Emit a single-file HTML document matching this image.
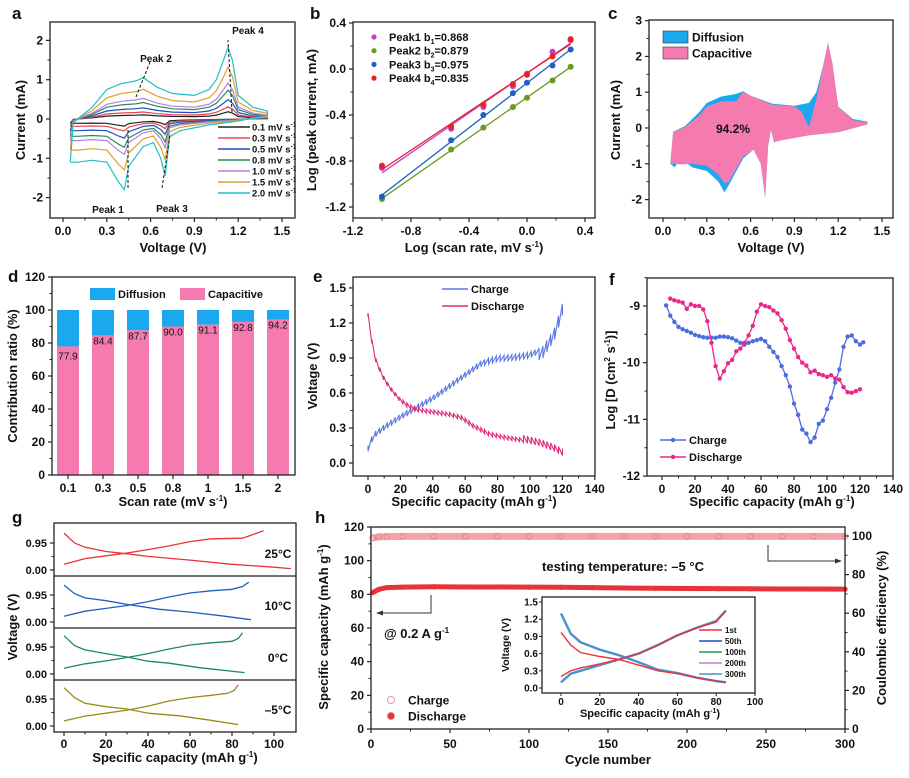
<!DOCTYPE html>
<html><head><meta charset="utf-8"><style>
html,body{margin:0;padding:0;background:#fff;}
svg{display:block;font-family:"Liberation Sans",Arial,sans-serif;}
</style></head><body>
<svg id="chart" width="909" height="778" viewBox="0 0 909 778" xmlns="http://www.w3.org/2000/svg"></svg>
<script>
// ---------- Panel a data ----------
const aRates = ['0.1','0.3','0.5','0.8','1.0','1.5','2.0'];
const aScale = [0.1,0.17,0.27,0.4,0.5,0.72,1.0];
const aColors = ['#222','#e8464a','#1f4fc0','#2a8a5a','#b77fe0','#e0a030','#1ec0c8'];
const aV = [0.05,0.07,0.1,0.2,0.3,0.4,0.5,0.55,0.65,0.75,0.9,1.0,1.05,1.1,1.13,1.16,1.2,1.3,1.4,1.4,1.2,1.0,0.8,0.73,0.7,0.67,0.62,0.55,0.45,0.42,0.38,0.3,0.2,0.1,0.05];
const aI = [-1.1,-0.1,0.0,0.3,0.75,0.9,0.97,1.05,0.8,0.65,0.6,0.75,1.0,1.5,1.83,1.5,0.6,0.3,0.2,0.1,-0.05,-0.15,-0.3,-0.45,-1.45,-1.0,-0.6,-0.7,-1.2,-1.8,-1.6,-1.1,-1.05,-1.1,-1.1];
// ---------- Panel b data ----------
const bLogRate = [-1,-0.523,-0.301,-0.097,0,0.176,0.301];
const bPeak1 = [-0.86,-0.52,-0.33,-0.15,-0.04,0.15,0.25];
const bPeak2 = [-1.13,-0.70,-0.51,-0.33,-0.25,-0.10,0.02];
const bPeak3 = [-1.11,-0.62,-0.40,-0.21,-0.12,0.03,0.17];
const bPeak4 = [-0.84,-0.50,-0.31,-0.13,-0.05,0.11,0.26];
const bLabels = ['Peak1  b','Peak2  b','Peak3  b','Peak4  b'];
const bValues = ['0.868','0.879','0.975','0.835'];
// ---------- Panel c data ----------
const cTotV = [0.05,0.07,0.15,0.25,0.3,0.4,0.5,0.55,0.6,0.75,0.9,1.0,1.05,1.1,1.13,1.16,1.2,1.3,1.4,1.4,1.2,1.0,0.8,0.76,0.74,0.72,0.7,0.67,0.62,0.55,0.45,0.42,0.38,0.3,0.2,0.12,0.08,0.05];
const cTotI = [-1.0,-0.1,0.05,0.45,0.7,0.88,0.95,1.03,0.9,0.68,0.62,0.7,1.0,1.8,2.38,1.8,0.6,0.25,0.18,0.1,-0.12,-0.2,-0.35,-0.4,-0.05,-0.5,-1.95,-1.0,-0.6,-0.85,-1.6,-1.8,-1.5,-1.2,-1.1,-0.85,-1.1,-1.0];
const cCapV = [0.05,0.07,0.15,0.25,0.3,0.4,0.5,0.55,0.6,0.75,0.9,0.95,1.0,1.05,1.1,1.13,1.16,1.2,1.3,1.4,1.4,1.2,1.0,0.8,0.76,0.74,0.72,0.7,0.67,0.62,0.55,0.45,0.42,0.38,0.3,0.2,0.12,0.08,0.05];
const cCapI = [-1.0,-0.1,0.02,0.35,0.6,0.75,0.75,1.02,0.9,0.65,0.6,0.45,0.02,0.8,1.8,2.38,1.8,0.6,0.22,0.15,0.1,-0.12,-0.2,-0.35,-0.4,-0.05,-0.5,-1.95,-1.0,-0.6,-0.8,-1.5,-1.55,-1.3,-1.05,-1.0,-1.02,-1.0,-1.0];
// ---------- Panel d data ----------
const dRates = ['0.1','0.3','0.5','0.8','1','1.5','2'];
const dCap = [77.9,84.4,87.7,90.0,91.1,92.8,94.2];
// ---------- Panel e data ----------
const eChCap = [0,2,5,10,20,30,40,50,60,70,80,90,100,108,115,122];
const eChV = [0.15,0.22,0.28,0.33,0.42,0.5,0.58,0.68,0.78,0.88,0.92,0.93,0.95,1.0,1.15,1.45];
const eDisCap = [0,2,5,10,15,20,25,30,40,50,58,65,75,85,95,105,115,122];
const eDisV = [1.25,1.05,0.85,0.7,0.6,0.52,0.47,0.44,0.42,0.4,0.37,0.3,0.23,0.2,0.18,0.15,0.1,0.05];
// ---------- Panel f data ----------
const fChCap = [2.5,5,7.5,10,12.5,15,17.5,20,22.5,25,27.5,30,32.5,35,37.5,40,42.5,45,47.5,50,52.5,55,57.5,60,62.5,65,67.5,70,72.5,75,77.5,80,82.5,85,87.5,90,92.5,95,97.5,100,102.5,105,107.5,110,112.5,115,117.5,120,122];
const fChD = [-8.99,-9.17,-9.28,-9.37,-9.41,-9.44,-9.47,-9.51,-9.53,-9.55,-9.56,-9.56,-9.56,-9.54,-9.54,-9.55,-9.57,-9.61,-9.65,-9.68,-9.65,-9.62,-9.6,-9.58,-9.62,-9.72,-9.81,-9.9,-10.06,-10.22,-10.42,-10.72,-10.92,-11.18,-11.25,-11.4,-11.32,-11.08,-11.02,-10.82,-10.62,-10.35,-10.12,-9.72,-9.54,-9.52,-9.62,-9.68,-9.64];
const fDisCap = [5,7.5,10,12.5,15,17.5,20,22.5,25,27.5,30,32.5,35,37.5,40,42.5,45,47.5,50,52.5,55,57.5,60,62.5,65,67.5,70,72.5,75,77.5,80,82.5,85,87.5,90,92.5,95,97.5,100,102.5,105,107.5,110,112.5,115,117.5,120];
const fDisD = [-8.87,-8.9,-8.92,-8.94,-9.05,-8.97,-9.0,-9.0,-9.06,-9.27,-9.65,-10.06,-10.28,-10.15,-10.01,-9.95,-9.8,-9.75,-9.65,-9.52,-9.35,-9.1,-8.97,-9.0,-9.02,-9.08,-9.13,-9.25,-9.4,-9.6,-9.75,-9.9,-10.0,-10.05,-10.17,-10.14,-10.2,-10.22,-10.25,-10.22,-10.28,-10.3,-10.43,-10.52,-10.53,-10.5,-10.47];
// ---------- Panel g data ----------
const gTemps = ['25°C','10°C','0°C','–5°C'];
const gColors = ['#e8333a','#1f5fbf','#1e8a5a','#9a8a1a'];
const gChCap = [[0,10,20,30,40,50,60,70,85,90,95],[0,10,20,30,40,50,60,70,80,85,88],[0,10,20,30,40,50,60,70,80,83,85],[0,10,20,30,40,50,60,70,78,81,83]];
const gChV = [[0.2,0.4,0.5,0.6,0.72,0.85,1.0,1.1,1.12,1.25,1.38],[0.2,0.38,0.48,0.58,0.72,0.88,1.02,1.1,1.15,1.25,1.4],[0.2,0.36,0.46,0.58,0.72,0.88,1.02,1.1,1.15,1.25,1.45],[0.18,0.35,0.45,0.56,0.7,0.88,1.0,1.08,1.15,1.25,1.45]];
const gDisCap = [[0,5,10,20,30,40,60,80,100,108],[0,5,10,20,30,45,60,75,89],[0,5,10,20,30,40,50,65,86],[0,5,10,20,30,40,55,70,83]];
const gDisV = [[1.3,0.95,0.8,0.65,0.57,0.48,0.35,0.2,0.1,0.05],[1.3,1.0,0.85,0.75,0.62,0.45,0.35,0.22,0.08],[1.35,1.0,0.85,0.72,0.6,0.45,0.38,0.22,0.05],[1.35,1.0,0.8,0.68,0.6,0.45,0.36,0.2,0.05]];
// ---------- Panel h data ----------
const hCycles = [1,5,10,20,40,60,80,100,120,140,160,180,200,220,240,260,280,300];
const hDisCap = [81,83,84,84.3,84.5,84.4,84.4,84.3,84.2,84.0,83.8,83.6,83.5,83.4,83.3,83.2,83.2,83.1];
const hCE = [99,99.6,99.7,99.8,99.8,99.8,99.8,99.8,99.8,99.8,99.8,99.8,99.8,99.8,99.8,99.8,99.8,99.8];
const inCap = [0,5,10,20,30,40,50,60,70,80,85];
const inCh1 = [0.2,0.3,0.35,0.42,0.5,0.6,0.75,0.92,1.05,1.15,1.35];
const inCh300 = [0.1,0.25,0.3,0.4,0.5,0.6,0.75,0.92,1.05,1.17,1.35];
const inDis1 = [0.97,0.75,0.62,0.55,0.5,0.4,0.3,0.25,0.18,0.12,0.1];
const inDis300 = [1.3,0.95,0.8,0.67,0.57,0.45,0.32,0.26,0.18,0.12,0.1];
const inLabels = ['1st','50th','100th','200th','300th'];
const inColors = ['#e8333a','#1f4fc0','#1e9a5a','#b77fe0','#4a90d0'];

const NS='http://www.w3.org/2000/svg';
const svg=document.getElementById('chart');
function mk(tag,attrs,parent){const e=document.createElementNS(NS,tag);for(const k in attrs)e.setAttribute(k,attrs[k]);(parent||svg).appendChild(e);return e;}
function txt(x,y,s,size,anchor,parent,extra){const e=mk('text',Object.assign({x:x,y:y,'font-size':size,'font-weight':'bold','text-anchor':anchor||'middle',fill:'#111'},extra||{}),parent);e.textContent=s;return e;}
function pts(xs,ys,sx,sy){return xs.map((v,i)=>sx(v).toFixed(1)+','+sy(ys[i]).toFixed(1)).join(' ');}
function interp(xs,ys,x){for(let i=0;i<xs.length-1;i++){if(x<=xs[i+1]){const t=(x-xs[i])/(xs[i+1]-xs[i]);return ys[i]+t*(ys[i+1]-ys[i]);}}return ys[ys.length-1];}
function frame(g,b){const r=mk('rect',{x:b.x0,y:b.y0,width:b.x1-b.x0,height:b.y1-b.y0,fill:'none',stroke:'#222','stroke-width':1.3},g);

}
function xAxis(g,b,sx,vals,labels,minor,ly){vals.forEach((v,i)=>{const t=mk('line',{x1:sx(v),x2:sx(v),y1:b.y1,y2:b.y1+4,stroke:'#222','stroke-width':1.2},g);


const l=txt(sx(v),ly||b.y1+17,labels[i],12,'middle',g);

});
(minor||[]).forEach(v=>{const t=mk('line',{x1:sx(v),x2:sx(v),y1:b.y1,y2:b.y1+2.5,stroke:'#222','stroke-width':1},g);

});}
function yAxis(g,b,sy,vals,labels,minor,right,fs){const x=right?b.x1:b.x0,d=right?1:-1;vals.forEach((v,i)=>{const t=mk('line',{x1:x,x2:x+4*d,y1:sy(v),y2:sy(v),stroke:'#222','stroke-width':1.2},g);


const l=txt(x+7*d,sy(v)+4,labels[i],fs||12,right?'start':'end',g);

});
(minor||[]).forEach(v=>{const t=mk('line',{x1:x,x2:x+2.5*d,y1:sy(v),y2:sy(v),stroke:'#222','stroke-width':1},g);

});}
function ytitle(g,x,y,s,fs){const e=txt(x,y,s,fs||13,'middle',g,{transform:'rotate(-90 '+x+' '+y+')'});

return e;}
function xtitle(g,x,y,s){const e=txt(x,y,s,13,'middle',g);

return e;}
function letter(g,x,y,s){const e=txt(x,y,s,17,'start',g);

}
function panel(name){const g=mk('g',{});

return g;}
function rng(a,b,s){const r=[];for(let v=a;v<=b+1e-9;v+=s)r.push(+v.toFixed(4));return r;}

// ===== Panel a =====
(function(){const g=panel('panel-a-cv-curves');const b={x0:50,x1:295,y0:22,y1:218};
const sx=v=>63+v*146, sy=v=>119-39.3*v;
aScale.forEach((s,k)=>{const p=mk('polyline',{points:pts(aV,aI.map(v=>v*s),sx,sy),fill:'none',stroke:aColors[k],'stroke-width':1.2},g);

});
frame(g,b);
xAxis(g,b,sx,[0,0.3,0.6,0.9,1.2,1.5],['0.0','0.3','0.6','0.9','1.2','1.5'],[0.15,0.45,0.75,1.05,1.35]);
yAxis(g,b,sy,[-2,-1,0,1,2],['-2','-1','0','1','2'],[-1.5,-0.5,0.5,1.5]);
xtitle(g,173,252,'Voltage (V)');ytitle(g,25,120,'Current (mA)');letter(g,12,19,'a');
const arrows=[[136,97,150,62],[128,188,128,130],[162,188,170,135],[232,112,228,40]];
arrows.forEach(a=>{const l=mk('line',{x1:a[0],y1:a[1],x2:a[2],y2:a[3],stroke:'#111','stroke-width':1,'stroke-dasharray':'3,2'},g);

});
[['Peak 2',156,62],['Peak 1',108,213],['Peak 3',172,212],['Peak 4',248,34]].forEach(p=>{const t=txt(p[1],p[2],p[0],10,'middle',g,{'font-weight':'bold'});

});
aRates.forEach((r,k)=>{const y=127+k*11;const l=mk('line',{x1:218,x2:250,y1:y,y2:y,stroke:aColors[k],'stroke-width':1.5},g);


const t=txt(252,y+3.5,r+' mV s',9.5,'start',g);


const sp=mk('tspan',{dy:-4,'font-size':6.5},t);sp.textContent='-1';});
})();

// ===== Panel b =====
(function(){const g=panel('panel-b-log-fit');const b={x0:353,x1:595,y0:22,y1:218};
const sx=v=>382+(v+1)*145, sy=v=>69-115*v;
const series=[bPeak1,bPeak2,bPeak3,bPeak4], cols=['#c040c8','#6a9a20','#1f5fc0','#e8202a'];
series.forEach((ys,k)=>{const n=ys.length;let mx=0,my=0;bLogRate.forEach((x,i)=>{mx+=x/n;my+=ys[i]/n;});let sxy=0,sxx=0;bLogRate.forEach((x,i)=>{sxy+=(x-mx)*(ys[i]-my);sxx+=(x-mx)*(x-mx);});const m=sxy/sxx,c=my-m*mx;const xa=bLogRate[0],xb=bLogRate[n-1];
const l=mk('line',{x1:sx(xa),y1:sy(m*xa+c),x2:sx(xb),y2:sy(m*xb+c),stroke:cols[k],'stroke-width':1.3},g);


bLogRate.forEach((x,i)=>{const d=mk('circle',{cx:sx(x),cy:sy(ys[i]),r:3,fill:cols[k]},g);

});
const y=37+k*13.7;const ld=mk('circle',{cx:374,cy:y,r:2.6,fill:cols[k]},g);


const t=txt(389,y+4,bLabels[k],11,'start',g);


const s1=mk('tspan',{dy:3,'font-size':7},t);s1.textContent=String(k+1);const s2=mk('tspan',{dy:-3},t);s2.textContent='='+bValues[k];});
frame(g,b);
xAxis(g,b,sx,[-1.2,-0.8,-0.4,0,0.4],['-1.2','-0.8','-0.4','0.0','0.4'],[-1.0,-0.6,-0.2,0.2]);
yAxis(g,b,sy,[-1.2,-0.8,-0.4,0,0.4],['-1.2','-0.8','-0.4','0.0','0.4'],[-1.0,-0.6,-0.2,0.2]);
const xt=xtitle(g,474,252,'Log (scan rate, mV s');const sp=mk('tspan',{dy:-5,'font-size':8},xt);sp.textContent='-1';const sp2=mk('tspan',{dy:5},xt);sp2.textContent=')';
ytitle(g,316,120,'Log (peak current, mA)');letter(g,310,19,'b');})();

// ===== Panel c =====
(function(){const g=panel('panel-c-contribution');const b={x0:649,x1:893,y0:20,y1:218};
const sx=v=>663+v*146, sy=v=>128-35.8*v;
const a=mk('polygon',{points:pts(cTotV,cTotI,sx,sy),fill:'#1aa8ee'},g);


const p=mk('polygon',{points:pts(cCapV,cCapI,sx,sy),fill:'#f47aaf'},g);


frame(g,b);
xAxis(g,b,sx,[0,0.3,0.6,0.9,1.2,1.5],['0.0','0.3','0.6','0.9','1.2','1.5'],[0.15,0.45,0.75,1.05,1.35]);
yAxis(g,b,sy,[-2,-1,0,1,2,3],['-2','-1','0','1','2','3'],[-1.5,-0.5,0.5,1.5,2.5]);
xtitle(g,771,252,'Voltage (V)');ytitle(g,620,120,'Current (mA)');letter(g,608,19,'c');
const pc=txt(733,133,'94.2%',12,'middle',g);


[['Diffusion','#1aa8ee',31],['Capacitive','#f47aaf',47]].forEach(e=>{const r=mk('rect',{x:663,y:e[2],width:25,height:12,fill:e[1],stroke:'#333','stroke-width':0.6},g);


const t=txt(692,e[2]+10.5,e[0],12,'start',g);

});})();

// ===== Panel d =====
(function(){const g=panel('panel-d-bar-chart');const b={x0:52,x1:295,y0:277,y1:475};
const sy=v=>475-1.65*v, bx=i=>68+35*i;
dCap.forEach((v,i)=>{const r1=mk('rect',{x:bx(i)-11,y:sy(100),width:22,height:sy(v)-sy(100),fill:'#1aa8ee'},g);


const r2=mk('rect',{x:bx(i)-11,y:sy(v),width:22,height:sy(0)-sy(v),fill:'#f47aaf'},g);


const t=txt(bx(i),sy(v)+(i==0?13:9),v.toFixed(1),10,'middle',g,{'font-weight':'normal'});

});
frame(g,b);
xAxis(g,b,bx,[0,1,2,3,4,5,6],dRates);
yAxis(g,b,sy,[0,20,40,60,80,100,120],['0','20','40','60','80','100','120'],[10,30,50,70,90,110]);
const xt=xtitle(g,173,506,'Scan rate (mV s');const sp=mk('tspan',{dy:-5,'font-size':8},xt);sp.textContent='-1';const sp2=mk('tspan',{dy:5},xt);sp2.textContent=')';
ytitle(g,17,376,'Contribution ratio (%)');letter(g,8,282,'d');
[['Diffusion','#1aa8ee',90],['Capacitive','#f47aaf',180]].forEach(e=>{const r=mk('rect',{x:e[2],y:288,width:25,height:12,fill:e[1]},g);


const t=txt(e[2]+28,298,e[0],11,'start',g);

});})();

// ===== Panel e =====
(function(){const g=panel('panel-e-gitt');const b={x0:353,x1:595,y0:277,y1:476};
const sx=c=>368+c*1.62, sy=v=>463-116.7*v;
function saw(cs,vs,dir,col,name){let d='';const max=cs[cs.length-1];for(let c=0;c<=max+1e-6;c+=2.4){const v=interp(cs,vs,c);const amp=dir<0?(c>105?0.1:0.05):(c>95?0.06:0.035);d+=(d?'L':'M')+sx(c).toFixed(1)+','+sy(v).toFixed(1)+'L'+sx(c).toFixed(1)+','+sy(v+dir*amp).toFixed(1);}
const p=mk('path',{d:d,fill:'none',stroke:col,'stroke-width':1.1},g);

}
saw(eChCap,eChV,-1,'#5a78e0','charge-curve');
saw(eDisCap,eDisV,1,'#e0287a','discharge-curve');
frame(g,b);
xAxis(g,b,sx,[0,20,40,60,80,100,120,140],['0','20','40','60','80','100','120','140'],[10,30,50,70,90,110,130]);
yAxis(g,b,sy,[0,0.3,0.6,0.9,1.2,1.5],['0.0','0.3','0.6','0.9','1.2','1.5'],[0.15,0.45,0.75,1.05,1.35]);
const xt=xtitle(g,474,506,'Specific capacity (mAh g');const sp=mk('tspan',{dy:-5,'font-size':8},xt);sp.textContent='-1';const sp2=mk('tspan',{dy:5},xt);sp2.textContent=')';
ytitle(g,317,376,'Voltage (V)');letter(g,313,282,'e');
[['Charge','#5a78e0',289],['Discharge','#e0287a',306]].forEach(e=>{const l=mk('line',{x1:442,x2:468,y1:e[2],y2:e[2],stroke:e[1],'stroke-width':1.5},g);


const t=txt(471,e[2]+4,e[0],11,'start',g);

});})();

// ===== Panel f =====
(function(){const g=panel('panel-f-diffusion-coef');const b={x0:647,x1:893,y0:278,y1:476};
const sx=c=>662+c*1.65, sy=v=>306-(v+9)*56.7;
[[fChCap,fChD,'#4a6ee0','charge'],[fDisCap,fDisD,'#e8288a','discharge']].forEach(s=>{const p=mk('polyline',{points:pts(s[0],s[1],sx,sy),fill:'none',stroke:s[2],'stroke-width':1.3},g);


s[0].forEach((c,i)=>{const d=mk('circle',{cx:sx(c),cy:sy(s[1][i]),r:2.2,fill:s[2]},g);

});});
frame(g,b);
xAxis(g,b,sx,[0,20,40,60,80,100,120,140],['0','20','40','60','80','100','120','140'],[10,30,50,70,90,110,130]);
yAxis(g,b,sy,[-12,-11,-10,-9],['-12','-11','-10','-9'],[-11.5,-10.5,-9.5,-8.5]);
const xt=xtitle(g,772,506,'Specific capacity (mAh g');const sp=mk('tspan',{dy:-5,'font-size':8},xt);sp.textContent='-1';const sp2=mk('tspan',{dy:5},xt);sp2.textContent=')';
const yt=ytitle(g,615,380,'Log [D (cm');const a1=mk('tspan',{dy:-5,'font-size':8},yt);a1.textContent='2';const a2=mk('tspan',{dy:5},yt);a2.textContent=' s';const a3=mk('tspan',{dy:-5,'font-size':8},yt);a3.textContent='-1';const a4=mk('tspan',{dy:5},yt);a4.textContent=')]';
letter(g,609,285,'f');
[['Charge','#4a6ee0',440],['Discharge','#e8288a',457]].forEach(e=>{const l=mk('line',{x1:660,x2:686,y1:e[2],y2:e[2],stroke:e[1],'stroke-width':1.5},g);


const c=mk('circle',{cx:673,cy:e[2],r:2.2,fill:e[1]},g);


const t=txt(689,e[2]+4,e[0],11,'start',g);

});})();

// ===== Panel g =====
(function(){const g=panel('panel-g-temperature');const b={x0:54,x1:296,y0:523,y1:732};
const sx=c=>64+c*2.1;const tops=[523,576,628,680],zeros=[570,622,674,726];
gTemps.forEach((tp,k)=>{const sy=v=>zeros[k]-28.4*v;
const p1=mk('polyline',{points:pts(gChCap[k],gChV[k],sx,sy),fill:'none',stroke:gColors[k],'stroke-width':1.3},g);


const p2=mk('polyline',{points:pts(gDisCap[k],gDisV[k],sx,sy),fill:'none',stroke:gColors[k],'stroke-width':1.3},g);


yAxis(g,{x0:54,x1:296},sy,[0,0.95],['0.00','0.95'],[0.475],false,11);
const t=txt(278,zeros[k]-12,tp,12,'middle',g);


if(k>0){const l=mk('line',{x1:54,x2:296,y1:tops[k],y2:tops[k],stroke:'#222','stroke-width':1.3},g);

}});
frame(g,b);
xAxis(g,b,sx,[0,20,40,60,80,100],['0','20','40','60','80','100'],[10,30,50,70,90],748);
const xt=xtitle(g,175,762,'Specific capacity (mAh g');const sp=mk('tspan',{dy:-5,'font-size':8},xt);sp.textContent='-1';const sp2=mk('tspan',{dy:5},xt);sp2.textContent=')';
ytitle(g,17,627,'Voltage (V)');letter(g,12,523,'g');})();

// ===== Panel h =====
(function(){const g=panel('panel-h-cycling');const b={x0:371,x1:845,y0:527,y1:729};
const sx=n=>371+n*1.58, syL=v=>729-1.683*v, syR=v=>729-1.93*v;
const ce=mk('polyline',{points:pts(hCycles,hCE,sx,syR),fill:'none',stroke:'#f5a3aa','stroke-width':7},g);


const ds=mk('polyline',{points:pts(hCycles,hDisCap,sx,syL),fill:'none',stroke:'#e8333a','stroke-width':5},g);


hCycles.forEach((n,i)=>{const c=mk('circle',{cx:sx(n),cy:syR(hCE[i]),r:2.8,fill:'none',stroke:'#e8727a','stroke-width':0.6},g);


const d=mk('circle',{cx:sx(n),cy:syL(hDisCap[i]),r:2.6,fill:'#e8333a'},g);

});
frame(g,b);
xAxis(g,b,sx,[0,50,100,150,200,250,300],['0','50','100','150','200','250','300'],[25,75,125,175,225,275],748);
yAxis(g,b,syL,[0,20,40,60,80,100,120],['0','20','40','60','80','100','120'],[10,30,50,70,90,110]);
yAxis(g,b,syR,[0,20,40,60,80,100],['0','20','40','60','80','100'],[10,30,50,70,90],true);
xtitle(g,608,764,'Cycle number');
const yt=ytitle(g,328,627,'Specific capacity (mAh g');const a1=mk('tspan',{dy:-5,'font-size':8},yt);a1.textContent='-1';const a2=mk('tspan',{dy:5},yt);a2.textContent=')';
ytitle(g,886,628,'Coulombic efficiency (%)');letter(g,315,523,'h');
const tt=txt(623,571,'testing temperature: –5 °C',13,'middle',g);


const cur=txt(384,638,'@ 0.2 A g',13,'start',g,{'font-weight':'bold'});


const cs=mk('tspan',{dy:-5,'font-size':8},cur);cs.textContent='-1';
const ar1=mk('path',{d:'M431,595 L431,613 L380,613',fill:'none',stroke:'#333','stroke-width':1},g);


const ah1=mk('polygon',{points:'376,613 383,610.5 383,615.5',fill:'#333'},g);


const ar2=mk('path',{d:'M768,545 L768,561 L838,561',fill:'none',stroke:'#333','stroke-width':1},g);


const ah2=mk('polygon',{points:'842,561 835,558.5 835,563.5',fill:'#333'},g);


[['Charge',700,false],['Discharge',716,true]].forEach(e=>{const c=mk('circle',{cx:391,cy:e[1],r:3.5,fill:e[2]?'#e8333a':'none',stroke:'#e8727a','stroke-width':0.8},g);


const t=txt(408,e[1]+4.5,e[0],12,'start',g);

});
// inset
const ib={x0:542,x1:755,y0:597,y1:693};const ix=c=>561+c*1.94, iy=v=>688-57.3*v;
const bg=mk('rect',{x:ib.x0,y:ib.y0,width:ib.x1-ib.x0,height:ib.y1-ib.y0,fill:'#fff'},g);


[[inCh300,'#4a90d0'],[inDis300,'#4a90d0'],[inCh1,'#e8333a'],[inDis1,'#e8333a']].forEach((s,k)=>{const p=mk('polyline',{points:pts(inCap,s[0],ix,iy),fill:'none',stroke:s[1],'stroke-width':k<2?2.4:1.4},g);

});
frame(g,ib);
const ig=mk('g',{},g);


[0,20,40,60,80,100].forEach(v=>{const t=mk('line',{x1:ix(v),x2:ix(v),y1:ib.y1,y2:ib.y1+3,stroke:'#222'},ig);


const l=txt(ix(v),ib.y1+12,String(v),10,'middle',ig);

});
[0,0.3,0.6,0.9,1.2,1.5].forEach(v=>{const t=mk('line',{x1:ib.x0,x2:ib.x0-3,y1:iy(v),y2:iy(v),stroke:'#222'},ig);


const l=txt(ib.x0-4,iy(v)+3.5,v.toFixed(1),10,'end',ig);

});
const ixt=txt(650,717,'Specific capacity (mAh g',11,'middle',ig);


const q1=mk('tspan',{dy:-4,'font-size':7},ixt);q1.textContent='-1';const q2=mk('tspan',{dy:4},ixt);q2.textContent=')';
const iyt=txt(509,645,'Voltage (V)',10.5,'middle',ig,{transform:'rotate(-90 509 645)'});


inLabels.forEach((s,k)=>{const y=630+k*11;const l=mk('line',{x1:699,x2:722,y1:y,y2:y,stroke:inColors[k],'stroke-width':1.5},ig);


const t=txt(725,y+3,s,8,'start',ig);

});
})();
</script>
</body></html>
